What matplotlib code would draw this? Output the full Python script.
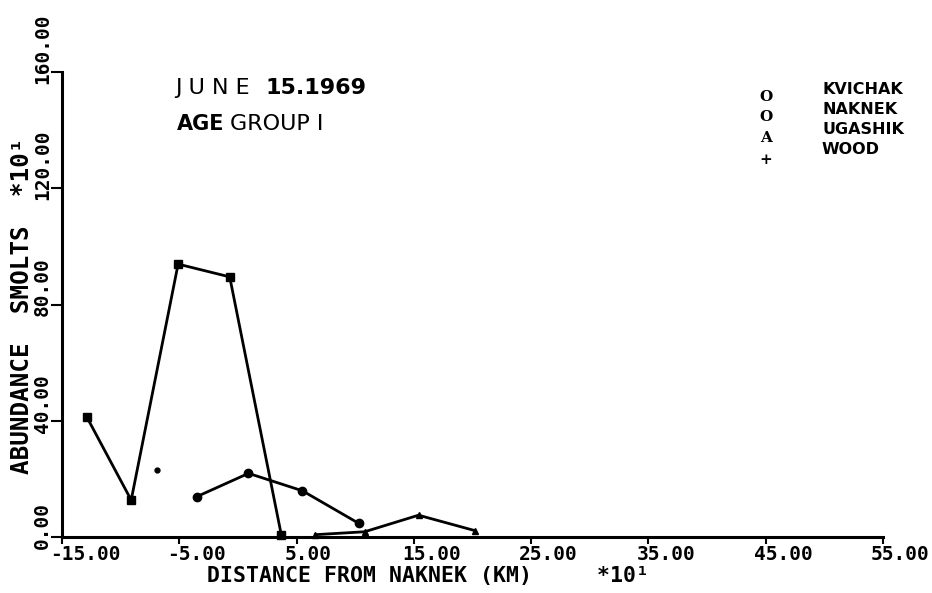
import matplotlib.pyplot as plt
import numpy as np

# values (distance *10 km, abundance *10 smolts)
kvichak_x = [-12.9, -9.1, -5.1, -0.7, 3.7]
kvichak_y = [41.4, 12.7, 93.9, 89.5, 0.7]
naknek_x = [-3.5, 0.9, 5.5, 10.3]
naknek_y = [13.9, 21.9, 15.9, 4.7]
ugashik_x = [6.6, 10.8, 15.4, 20.2]
ugashik_y = [0.8, 1.8, 7.5, 2.2]
wood_x = [-6.9]
wood_y = [23.0]

x_ticks = [-15, -5, 5, 15, 25, 35, 45, 55]
y_ticks = [0, 40, 80, 120, 160]

legend_symbols = ["O", "O", "A", "+"]
legend_names = ["KVICHAK", "NAKNEK", "UGASHIK", "WOOD"]

W, H = 932, 593
fig = plt.figure(figsize=(W / 100, H / 100), dpi=100)
ax = fig.add_axes([62 / W, 1 - 537 / H, (883 - 62) / W, (537 - 72) / H])

line_kw = dict(color="black", lw=2.0, clip_on=False)
ax.plot(kvichak_x, kvichak_y, marker="s", ms=6, **line_kw)
ax.plot(naknek_x, naknek_y, marker="o", ms=6, **line_kw)
ax.plot(ugashik_x, ugashik_y, marker="^", ms=5, **line_kw)
ax.plot(wood_x, wood_y, marker="o", ms=3.5, ls="none", color="black")

ax.set_xlim(-15, 55)
ax.set_ylim(0, 160)
for s in ["top", "right"]:
    ax.spines[s].set_visible(False)
for s in ["left", "bottom"]:
    ax.spines[s].set_linewidth(2.2)

ax.set_xticks(x_ticks)
ax.set_yticks(y_ticks)
ax.set_xticklabels([])
ax.set_yticklabels([])
ax.tick_params(axis="x", direction="out", length=5, width=1.5)
ax.tick_params(axis="y", direction="out", length=8, width=1.5)

mono = dict(family="DejaVu Sans Mono", weight="bold", color="black")
for t in x_ticks:
    ax.annotate(f"{t:.2f}", xy=(t, 0), xycoords=("data", "axes fraction"),
                xytext=(-8.6, -5.5), textcoords="offset points",
                ha="left", va="top", fontsize=14, annotation_clip=False, **mono)
for t in y_ticks:
    ax.annotate(f"{t:.2f}", xy=(0, t), xycoords=("axes fraction", "data"),
                xytext=(-7.2, -8.6), textcoords="offset points",
                ha="right", va="bottom", rotation=90, fontsize=14,
                annotation_clip=False, **mono)

fig.text(207 / W, 1 - 576 / H, "DISTANCE FROM NAKNEK (KM)     *10\u00b9",
         ha="left", va="center", fontsize=15.5, **mono)
fig.text(22 / W, 1 - 474 / H, "ABUNDANCE  SMOLTS  *10\u00b9",
         ha="center", va="bottom", rotation=90, fontsize=17.5, **mono)

# header text
fig.text(175 / W, 1 - 88 / H, "J U N E", ha="left", va="center",
         fontsize=16, family="DejaVu Sans")
fig.text(265 / W, 1 - 88 / H, "15.1969", ha="left", va="center",
         fontsize=16, family="DejaVu Sans", weight="bold")
fig.text(177 / W, 1 - 124 / H, "AGE", ha="left", va="center",
         fontsize=15, family="DejaVu Sans", weight="bold")
fig.text(230 / W, 1 - 124 / H, "GROUP I", ha="left", va="center",
         fontsize=16, family="DejaVu Sans")

# legend
name_y = [90, 110, 130, 150]
sym_y = [97, 117, 138, 160]
for sym, name, ny, sy in zip(legend_symbols, legend_names, name_y, sym_y):
    fig.text(766 / W, 1 - sy / H, sym, ha="center", va="center",
             fontsize=11, family="DejaVu Serif", weight="bold")
    fig.text(822 / W, 1 - ny / H, name, ha="left", va="center",
             fontsize=11.5, family="DejaVu Sans", weight="bold")

fig.savefig("out.png", dpi=100)
